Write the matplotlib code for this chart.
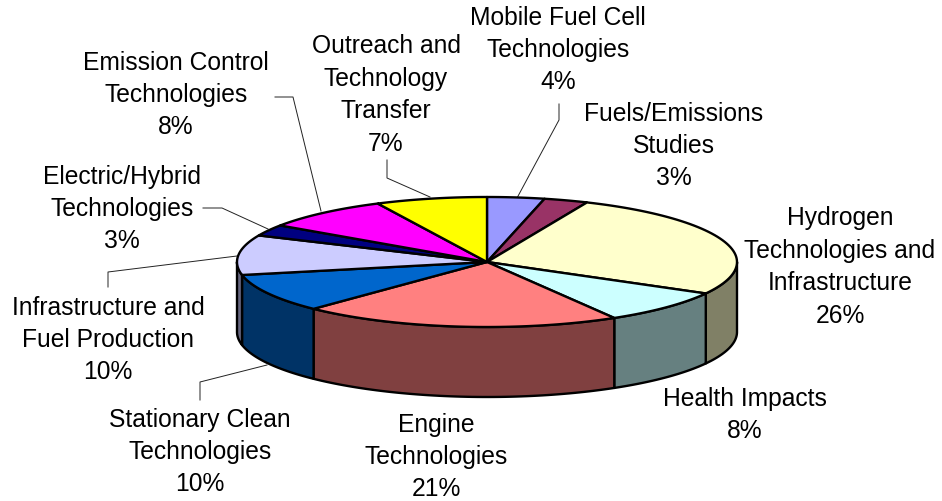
import matplotlib
matplotlib.use("Agg")
import matplotlib.pyplot as plt
import numpy as np

plt.rcParams["font.family"] = ["Liberation Sans", "DejaVu Sans"]

# clockwise from 12 o'clock
names = ["Mobile Fuel Cell\nTechnologies", "Fuels/Emissions\nStudies",
         "Hydrogen\nTechnologies and\nInfrastructure", "Health Impacts",
         "Engine\nTechnologies", "Stationary Clean\nTechnologies",
         "Infrastructure and\nFuel Production", "Electric/Hybrid\nTechnologies",
         "Emission Control\nTechnologies", "Outreach and\nTechnology\nTransfer"]
shares = [3.7, 2.85, 26.49, 8.46, 20.7, 9.6, 9.9, 2.8, 8.3, 7.2]
tops = ["#9999FF", "#993366", "#FFFFCC", "#CCFFFF", "#FF8080",
        "#0066CC", "#CCCCFF", "#000080", "#FF00FF", "#FFFF00"]
sides = ["#4C4C80", "#4C1933", "#808066", "#668080", "#804040",
         "#003366", "#666680", "#000040", "#800080", "#808000"]

# label centres in pixels
label_x = [558, 674, 840, 745, 436, 200, 108, 122, 176, 386]
label_y = [50, 146, 267, 415, 457, 452, 340, 209, 95, 95]

leaders = [[(517, 198), (559, 120), (559, 104)],
           [(430, 197), (387, 178), (387, 160)],
           [(321, 211), (293, 97), (275, 97)],
           [(268, 229), (222, 208), (203, 208)],
           [(237, 256), (108, 272), (108, 287)],
           [(267, 365), (200, 382), (200, 400)]]

CX, CY = 487, 262
RX, RY = 250, 65
DEPTH = 70
EDGE = 1.7


def rim(a, b, drop=0):
    t = np.linspace(a, b, 60)
    return CX + RX * np.sin(t), CY - RY * np.cos(t) + drop


fig = plt.figure(figsize=(9.42, 5.01), dpi=100)
ax = fig.add_axes([0, 0, 1, 1])
ax.set_xlim(0, 942)
ax.set_ylim(501, 0)
ax.axis("off")

edges = 2 * np.pi * np.cumsum([0] + shares) / sum(shares)

# outer wall: only the front half of the disc shows
for i in range(len(shares)):
    a = max(edges[i], np.pi / 2)
    b = min(edges[i + 1], 3 * np.pi / 2)
    if b <= a:
        continue
    x1, y1 = rim(a, b)
    x2, y2 = rim(b, a, DEPTH)
    ax.fill(np.r_[x1, x2], np.r_[y1, y2], facecolor=sides[i],
            edgecolor="black", lw=EDGE, joinstyle="round", zorder=2)

# top face
for i in range(len(shares)):
    x, y = rim(edges[i], edges[i + 1])
    ax.fill(np.r_[CX, x], np.r_[CY, y], facecolor=tops[i],
            edgecolor="black", lw=EDGE, joinstyle="round", zorder=3)

for pts in leaders:
    xs, ys = zip(*pts)
    ax.plot(xs, ys, color="#222222", lw=0.7, zorder=1)

for name, share, x, y in zip(names, shares, label_x, label_y):
    ax.text(x, y, f"{name}\n{share:.0f}%", fontsize=17.7, ha="center", va="center",
            linespacing=1.44, color="black", zorder=4)

fig.savefig("out.png", dpi=100)
